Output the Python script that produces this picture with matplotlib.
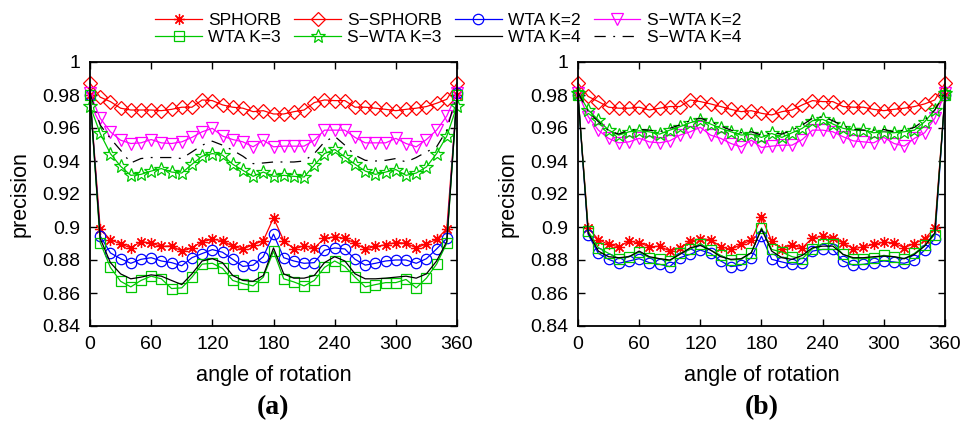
import matplotlib
matplotlib.use("Agg")
import matplotlib.pyplot as plt
from matplotlib.ticker import FuncFormatter
from matplotlib.lines import Line2D

plt.rcParams['font.family'] = ['Liberation Sans', 'DejaVu Sans']

angles = list(range(0, 361, 10))

# ---- panel (a) ----
a_sphorb = [0.980, 0.8990, 0.8922, 0.8898, 0.8873, 0.8912, 0.8902, 0.8882, 0.8886, 0.8853,
            0.8873, 0.8912, 0.8925, 0.8918, 0.8882, 0.8867, 0.8892, 0.8918, 0.9055, 0.8918,
            0.8867, 0.8886, 0.8873, 0.8931, 0.8941, 0.8931, 0.8902, 0.8867, 0.8882, 0.8892,
            0.8906, 0.8902, 0.8873, 0.8898, 0.8925, 0.8990, 0.980]
a_s_sphorb = [0.9872, 0.9787, 0.9760, 0.9720, 0.9709, 0.9709, 0.9709, 0.9705, 0.9713, 0.9726,
              0.9726, 0.9770, 0.9766, 0.9740, 0.9726, 0.9720, 0.9699, 0.9705, 0.9685, 0.9685,
              0.9699, 0.9709, 0.9754, 0.9770, 0.9766, 0.9766, 0.9726, 0.9726, 0.9720, 0.9713,
              0.9705, 0.9713, 0.9720, 0.9730, 0.9750, 0.9774, 0.9872]
a_wta2 = [0.980, 0.8945, 0.8843, 0.8808, 0.8780, 0.8804, 0.8814, 0.8794, 0.8784, 0.8765,
          0.8814, 0.8839, 0.8863, 0.8847, 0.8804, 0.8761, 0.8769, 0.8820, 0.8957, 0.8814,
          0.8794, 0.8780, 0.8784, 0.8859, 0.8873, 0.8867, 0.8804, 0.8769, 0.8780, 0.8794,
          0.8800, 0.8800, 0.8780, 0.8808, 0.8867, 0.8931, 0.981]
a_s_wta2 = [0.9811, 0.9659, 0.9577, 0.9526, 0.9506, 0.9510, 0.9530, 0.9510, 0.9506, 0.9516,
            0.9543, 0.9577, 0.9598, 0.9551, 0.9530, 0.9516, 0.9486, 0.9526, 0.9486, 0.9490,
            0.9490, 0.9490, 0.9526, 0.9587, 0.9587, 0.9587, 0.9543, 0.9510, 0.9510, 0.9510,
            0.9537, 0.9506, 0.9486, 0.9530, 0.9587, 0.9673, 0.9811]
a_wta3 = [0.980, 0.8906, 0.8755, 0.8671, 0.8637, 0.8676, 0.8702, 0.8686, 0.8627, 0.8631,
          0.8696, 0.8775, 0.8780, 0.8749, 0.8676, 0.8657, 0.8643, 0.8696, 0.8853, 0.8686,
          0.8667, 0.8643, 0.8676, 0.8755, 0.8794, 0.8761, 0.8696, 0.8637, 0.8651, 0.8663,
          0.8663, 0.8682, 0.8631, 0.8690, 0.8775, 0.8902, 0.980]
a_s_wta3 = [0.9735, 0.9567, 0.9445, 0.9368, 0.9313, 0.9319, 0.9339, 0.9354, 0.9333, 0.9327,
            0.9380, 0.9429, 0.9445, 0.9435, 0.9380, 0.9343, 0.9307, 0.9333, 0.9307, 0.9313,
            0.9307, 0.9303, 0.9374, 0.9445, 0.9470, 0.9425, 0.9380, 0.9339, 0.9319, 0.9333,
            0.9348, 0.9313, 0.9327, 0.9364, 0.9445, 0.9551, 0.9734]
a_wta4 = [0.980, 0.8931, 0.8784, 0.8716, 0.8686, 0.8696, 0.8710, 0.8702, 0.8676, 0.8651,
          0.8716, 0.8794, 0.8808, 0.8784, 0.8706, 0.8676, 0.8671, 0.8706, 0.8873, 0.8716,
          0.8690, 0.8690, 0.8706, 0.8784, 0.8820, 0.8794, 0.8716, 0.8686, 0.8686, 0.8690,
          0.8696, 0.8702, 0.8690, 0.8716, 0.8794, 0.8912, 0.980]
a_s_wta4 = [0.9811, 0.9618, 0.9537, 0.9465, 0.9388, 0.9415, 0.9421, 0.9421, 0.9421, 0.9415,
            0.9455, 0.9496, 0.9520, 0.9496, 0.9465, 0.9429, 0.9384, 0.9388, 0.9394, 0.9394,
            0.9394, 0.9400, 0.9445, 0.9516, 0.9550, 0.9496, 0.9435, 0.9404, 0.9400, 0.9404,
            0.9415, 0.9394, 0.9421, 0.9455, 0.9486, 0.9587, 0.9811]

# ---- panel (b) ----
b_sphorb = [0.980, 0.8994, 0.8924, 0.8894, 0.8880, 0.8914, 0.8904, 0.8880, 0.8884, 0.8854,
            0.8874, 0.8914, 0.8928, 0.8924, 0.8880, 0.8864, 0.8894, 0.8920, 0.9060, 0.8914,
            0.8868, 0.8888, 0.8874, 0.8934, 0.8944, 0.8934, 0.8904, 0.8868, 0.8880, 0.8894,
            0.8908, 0.8904, 0.8874, 0.8900, 0.8928, 0.8994, 0.980]
b_s_sphorb = [0.9872, 0.9791, 0.9760, 0.9726, 0.9720, 0.9720, 0.9726, 0.9709, 0.9720, 0.9730,
              0.9730, 0.9770, 0.9760, 0.9746, 0.9730, 0.9713, 0.9699, 0.9705, 0.9689, 0.9679,
              0.9699, 0.9709, 0.9740, 0.9766, 0.9760, 0.9760, 0.9730, 0.9726, 0.9726, 0.9713,
              0.9705, 0.9713, 0.9720, 0.9730, 0.9746, 0.9770, 0.9872]
b_wta2 = [0.980, 0.8954, 0.8840, 0.8804, 0.8780, 0.8794, 0.8808, 0.8784, 0.8774, 0.8760,
          0.8814, 0.8834, 0.8860, 0.8840, 0.8794, 0.8760, 0.8768, 0.8814, 0.8944, 0.8804,
          0.8788, 0.8774, 0.8780, 0.8854, 0.8864, 0.8864, 0.8794, 0.8768, 0.8774, 0.8784,
          0.8794, 0.8788, 0.8780, 0.8800, 0.8860, 0.8928, 0.980]
b_s_wta2 = [0.9811, 0.9669, 0.9587, 0.9537, 0.9510, 0.9516, 0.9537, 0.9516, 0.9510, 0.9522,
            0.9557, 0.9577, 0.9604, 0.9557, 0.9537, 0.9506, 0.9486, 0.9526, 0.9482, 0.9490,
            0.9496, 0.9496, 0.9530, 0.9587, 0.9587, 0.9577, 0.9547, 0.9522, 0.9516, 0.9510,
            0.9543, 0.9506, 0.9490, 0.9537, 0.9571, 0.9659, 0.9811]
b_wta3 = [0.980, 0.8974, 0.8874, 0.8840, 0.8808, 0.8820, 0.8848, 0.8814, 0.8808, 0.8794,
          0.8840, 0.8864, 0.8900, 0.8860, 0.8828, 0.8800, 0.8804, 0.8844, 0.8994, 0.8864,
          0.8848, 0.8820, 0.8808, 0.8868, 0.8900, 0.8900, 0.8834, 0.8808, 0.8808, 0.8814,
          0.8828, 0.8820, 0.8808, 0.8840, 0.8888, 0.8954, 0.980]
b_s_wta3 = [0.9815, 0.9709, 0.9648, 0.9587, 0.9557, 0.9577, 0.9583, 0.9577, 0.9563, 0.9587,
            0.9608, 0.9632, 0.9648, 0.9624, 0.9598, 0.9577, 0.9557, 0.9563, 0.9543, 0.9567,
            0.9543, 0.9571, 0.9598, 0.9644, 0.9652, 0.9624, 0.9598, 0.9587, 0.9587, 0.9571,
            0.9577, 0.9571, 0.9577, 0.9587, 0.9638, 0.9709, 0.9815]
b_wta4 = [0.980, 0.8964, 0.8854, 0.8820, 0.8814, 0.8820, 0.8854, 0.8820, 0.8808, 0.8800,
          0.8834, 0.8874, 0.8888, 0.8860, 0.8820, 0.8804, 0.8808, 0.8844, 0.8988, 0.8854,
          0.8814, 0.8804, 0.8828, 0.8874, 0.8884, 0.8884, 0.8834, 0.8814, 0.8814, 0.8820,
          0.8824, 0.8820, 0.8808, 0.8834, 0.8884, 0.8964, 0.980]
b_s_wta4 = [0.9815, 0.9699, 0.9638, 0.9583, 0.9563, 0.9587, 0.9591, 0.9587, 0.9577, 0.9598,
            0.9618, 0.9644, 0.9659, 0.9638, 0.9612, 0.9587, 0.9571, 0.9577, 0.9557, 0.9571,
            0.9563, 0.9587, 0.9618, 0.9659, 0.9669, 0.9644, 0.9612, 0.9591, 0.9587, 0.9587,
            0.9591, 0.9577, 0.9587, 0.9604, 0.9648, 0.9709, 0.9815]

labels = ['SPHORB', 'S\u2212SPHORB', 'WTA K=2', 'S\u2212WTA K=2',
          'WTA K=3', 'S\u2212WTA K=3', 'WTA K=4', 'S\u2212WTA K=4']

RED = '#ff0000'
BLUE = '#0000ff'
MAG = '#ff00ff'
GREEN = '#00c800'

styles = [
    dict(color=RED, marker=(8, 2, 0), ms=8, ls='-'),
    dict(color=RED, marker='D', ms=7, mfc='none', ls='-'),
    dict(color=BLUE, marker='o', ms=7.5, mfc='none', ls='-'),
    dict(color=MAG, marker='v', ms=8.5, mfc='none', ls='-'),
    dict(color=GREEN, marker='s', ms=6.5, mfc='none', ls='-'),
    dict(color=GREEN, marker='*', ms=10, mfc='none', ls='-'),
    dict(color='black', marker=None, ls='-'),
    dict(color='black', marker=None, ls=(0, (9, 6, 1.5, 6))),
]

panel_a = [a_sphorb, a_s_sphorb, a_wta2, a_s_wta2, a_wta3, a_s_wta3, a_wta4, a_s_wta4]
panel_b = [b_sphorb, b_s_sphorb, b_wta2, b_s_wta2, b_wta3, b_s_wta3, b_wta4, b_s_wta4]

fig = plt.figure(figsize=(9.79, 4.25), dpi=100)
ax_a = fig.add_axes([90 / 979, 1 - 326 / 425, 367 / 979, 264 / 425])
ax_b = fig.add_axes([578 / 979, 1 - 326 / 425, 367 / 979, 264 / 425])


def draw(ax, series, tag):
    for vals, st in zip(series, styles):
        ax.plot(angles, vals, lw=0.9, mew=0.9, clip_on=False, **st)
    ax.set_xlim(0, 360)
    ax.set_ylim(0.84, 1.0)
    ax.set_xticks(range(0, 361, 60))
    ax.set_yticks([0.84 + 0.02 * i for i in range(9)])
    ax.yaxis.set_major_formatter(FuncFormatter(lambda v, p: f'{v:g}'))
    ax.tick_params(direction='in', length=5, width=1, top=True, right=True,
                   labelsize=14, pad=7)
    for sp in ax.spines.values():
        sp.set_linewidth(1.3)
    ax.set_ylabel('precision', fontsize=15.5, labelpad=8)
    ax.set_xlabel('angle of rotation', fontsize=15.7, labelpad=9)
    ax.text(0.5, -0.31, tag, transform=ax.transAxes, ha='center', va='center',
            fontsize=20, fontweight='bold', family='Liberation Serif')


draw(ax_a, panel_a, '(a)')
draw(ax_b, panel_b, '(b)')

handles = [Line2D([], [], lw=0.9, mew=0.9, **st) for st in styles]
# legend fills column-wise; reorder so rows read like the reference
order = [0, 4, 1, 5, 2, 6, 3, 7]
fig.legend([handles[i] for i in order], [labels[i] for i in order], ncol=4,
           loc='center', bbox_to_anchor=(448 / 979, 1 - 29 / 425), frameon=False,
           fontsize=12.5, handlelength=2.7, handletextpad=0.35, columnspacing=0.75,
           labelspacing=0.15, borderpad=0)

fig.savefig('out.png', dpi=100)
